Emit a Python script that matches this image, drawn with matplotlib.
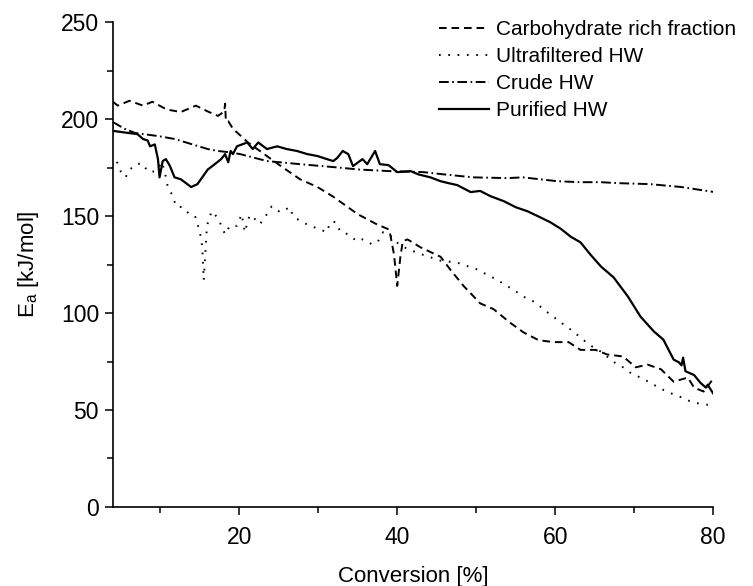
import numpy as np
import matplotlib
matplotlib.use("Agg")
import matplotlib.pyplot as plt

# values
carb_x = [4.0, 4.6, 6.1, 7.8, 9.0, 10.8, 12.6, 14.5, 16.0, 17.3, 18.1, 18.2, 18.3, 18.6, 19.2,
          20.3, 21.1, 25.2, 27.7, 29.9, 31.9, 35.0, 37.3, 39.0, 39.6, 40.0, 40.4, 40.7, 41.3,
          42.9, 45.5, 46.7, 48.4, 50.5, 52.2, 54.3, 56.0, 57.9, 59.8, 61.7, 63.2, 65.1, 66.6,
          68.6, 70.2, 71.7, 73.4, 75.0, 76.8, 77.6, 78.8, 80.0]
carb_y = [209, 207, 209.5, 207, 209, 205, 203.7, 207, 204, 201.7, 204, 208, 199, 199, 195,
          191, 188, 176, 169, 165, 160, 151, 146, 143, 130, 114, 129, 137, 138,
          134, 129, 122.5, 114, 105, 102, 95, 90, 86, 85, 85, 81, 81, 78.6,
          77.6, 72, 73.4, 71, 64.6, 66.7, 61.5, 59.5, 66]

ultra_x = [4.5, 5.0, 5.6, 6.1, 7.1, 7.8, 8.4, 9.3, 9.9, 10.2, 10.6, 10.9, 11.6, 12.0, 12.8,
           13.7, 14.4, 15.0, 15.3, 15.5, 15.9, 16.5, 17.3, 18.2, 18.8, 19.7, 20.3, 20.7,
           21.3, 22.0, 22.6, 23.5, 24.1, 25.2, 26.4, 26.8, 27.9, 29.0, 30.3, 31.1, 31.5,
           32.2, 32.8, 33.8, 34.9, 35.6, 36.8, 37.5, 38.2, 39.1, 40.1, 41.3, 43.3, 45.5,
           47.6, 50.1, 52.7, 54.7, 56.2, 57.5, 58.5, 59.8, 61.1, 62.3, 63.5, 64.7, 66.0,
           67.3, 68.6, 69.6, 70.8, 72.1, 73.1, 74.4, 75.7, 76.9, 78.2, 79.3, 80.0]
ultra_y = [178, 173, 170, 174, 177, 177, 173, 173, 176, 178, 172, 166, 160, 155, 154.6,
           151, 150, 142, 134.5, 117, 145, 152.5, 149, 140.6, 145, 145, 151, 141.7,
           150.5, 148.4, 145.8, 151, 155, 152, 154.6, 150, 147, 145, 143, 141.7, 146.8,
           147, 142, 140.6, 137, 138, 135.5, 136.5, 141.7, 140, 136, 133, 130, 127,
           126, 122.5, 117, 112, 108, 105.5, 102, 98, 94, 90.5, 86.3, 82.7, 79.6,
           75, 72, 69, 66.7, 64, 61.5, 59, 57, 54.8, 53.3, 52.7, 54]

crude_x = [4.0, 5.5, 6.8, 9.7, 11.8, 13.9, 16.0, 17.3, 18.6, 20.1, 23.5, 27.7, 31.9, 35.3,
           39.1, 43.3, 45.5, 49.6, 54.0, 55.9, 58.1, 60.3, 63.2, 65.8, 68.0, 72.0, 76.0, 80.0]
crude_y = [198.5, 195, 192.9, 191.3, 189.8, 187.2, 184.6, 183.6, 183, 182, 178.4, 176.8,
           175.3, 174, 173.2, 172.7, 171.7, 170, 169.6, 170, 169, 168, 167.5, 167.5, 167,
           166.5, 165, 162.5]

pur_x = [4.0, 5.0, 7.1, 7.8, 8.4, 8.7, 9.3, 9.7, 9.9, 10.3, 10.7, 11.2, 11.8, 12.6, 13.9,
         14.7, 16.0, 16.9, 17.7, 18.2, 18.6, 18.9, 19.2, 19.7, 21.0, 21.7, 22.4, 23.5, 24.8,
         26.0, 27.3, 28.6, 29.9, 31.1, 31.9, 32.4, 33.1, 33.8, 34.4, 35.6, 36.2, 37.2, 37.8,
         38.9, 40.0, 41.7, 42.7, 44.2, 45.5, 46.5, 47.6, 49.3, 50.5, 51.8, 53.5, 55.0, 56.5,
         58.1, 59.4, 60.7, 62.0, 63.2, 64.5, 65.8, 67.4, 69.2, 70.8, 72.5, 73.7, 75.0, 75.7,
         76.0, 76.2, 76.5, 77.6, 78.4, 79.1, 79.3, 80.1]
pur_y = [194, 193.4, 192.3, 189.8, 189, 186, 187, 179.4, 170, 178.4, 179.4, 176, 170, 169, 165,
         166.5, 174, 176.8, 179.4, 182, 177.8, 183.6, 182, 186, 188, 184.6, 188, 184.6, 186,
         184.6, 183.6, 182, 181, 179.4, 178.4, 180, 183.6, 182, 175.8, 179.4, 176.8, 183.6, 176.8,
         176.3, 172.7, 173.2, 171.5, 170, 168, 167, 166, 162.4, 163, 160.3, 157.7, 154.6, 152.5,
         149.4, 146.8, 143.5, 139.3, 136.5, 130, 124, 118.4, 108.6, 98.2, 90.5, 86.3, 76, 74.5,
         73, 77, 70, 68, 64, 61.5, 63, 58]

labels = ["Carbohydrate rich fraction", "Ultrafiltered HW", "Crude HW", "Purified HW"]

plt.rcParams['font.family'] = ['Liberation Sans', 'DejaVu Sans']
plt.rcParams['lines.scale_dashes'] = False

fig = plt.figure(figsize=(7.53, 5.86), dpi=100)
ax = fig.add_axes([0.150, 0.135, 0.797, 0.827])

lw = 1.4
ax.plot(carb_x, carb_y, color='black', lw=lw, dashes=(5.5, 3.5), label=labels[0])
ax.plot(ultra_x, ultra_y, color='black', lw=lw, dashes=(1.2, 5.5), label=labels[1])
ax.plot(crude_x, crude_y, color='black', lw=lw, dashes=(7, 2.5, 1.2, 2.5), label=labels[2])
ax.plot(pur_x, pur_y, color='black', lw=1.6, label=labels[3])

ax.set_xlim(4, 80)
ax.set_ylim(0, 250)
ax.set_xticks([20, 40, 60, 80])
ax.set_xticks([10, 30, 50, 70], minor=True)
ax.set_yticks([0, 50, 100, 150, 200, 250])
ax.set_yticks([25, 75, 125, 175, 225], minor=True)
ax.tick_params(which='major', direction='out', length=6, width=1.1, labelsize=16.5, pad=4)
ax.tick_params(which='minor', direction='out', length=4, width=1.1)
ax.tick_params(axis='x', which='major', pad=8)

for s in ['top', 'right']:
    ax.spines[s].set_visible(False)
for s in ['left', 'bottom']:
    ax.spines[s].set_linewidth(1.2)

ax.set_xlabel('Conversion [%]', fontsize=16, labelpad=12)
ax.set_ylabel(r'E$_\mathregular{a}$ [kJ/mol]', fontsize=16, labelpad=14)

ax.legend(loc='upper left', bbox_to_anchor=(0.583, 0.966), bbox_transform=fig.transFigure,
          frameon=False, fontsize=15, handlelength=2.4, handletextpad=0.35,
          labelspacing=0.39, borderpad=0, borderaxespad=0)

fig.savefig('out.png', dpi=100)
